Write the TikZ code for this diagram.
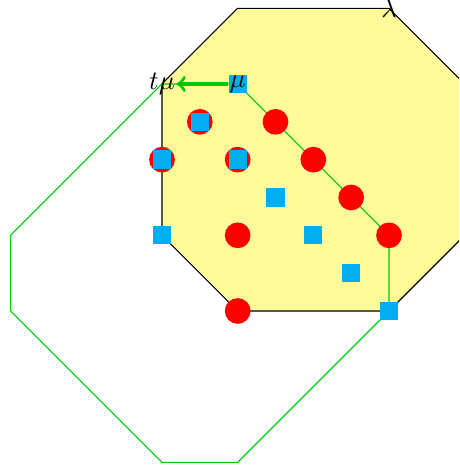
\documentclass[tikz,border=0pt]{standalone}
\begin{document}
\begin{tikzpicture}[x=0.5cm,y=-0.5cm,
  dot/.style={circle,fill=red,draw=none,minimum size=0.34cm,inner sep=0pt},
  sq/.style={rectangle,fill=boxblue,draw=none,minimum width=0.242cm,minimum height=0.242cm,inner sep=0pt},
  lab/.style={inner sep=0.5pt}]
\definecolor{boxblue}{RGB}{0,174,239}
\definecolor{lgreen}{RGB}{0,200,0}
\useasboundingbox (-4.282,-2.220) rectangle (7.851,10.203);
\clip (-4.282,-2.220) rectangle (7.851,10.203);
% yellow octagon
\draw[fill=yellow!40,draw=black] (2,-2) -- (6,-2) -- (8,0) -- (8,4) -- (6,6) -- (2,6) -- (0,4) -- (0,0) -- cycle;
% green octagon
\draw[lgreen] (0,0) -- (2,0) -- (6,4) -- (6,6) -- (2,10) -- (0,10) -- (-4,6) -- (-4,4) -- cycle;
% red dots
\node[dot] (c1) at (1,1) {};
\node[dot] (c2) at (3,1) {};
\node[dot] (c3) at (0,2) {};
\node[dot] (c4) at (2,2) {};
\node[dot] (c5) at (4,2) {};
\node[dot] (c6) at (5,3) {};
\node[dot] (c7) at (6,4) {};
\node[dot] (c8) at (2,4) {};
\node[dot] (c9) at (2,6) {};
% blue squares
\node[sq] (mu) at (2,0) {$\mu$};
\node[sq] (s1) at (1,1) {};
\node[sq] (s2) at (0,2) {};
\node[sq] (s3) at (2,2) {};
\node[sq] (s4) at (3,3) {};
\node[sq] (s5) at (0,4) {};
\node[sq] (s6) at (4,4) {};
\node[sq] (s7) at (5,5) {};
\node[sq] (s8) at (6,6) {};
% labels
\node[lab] (tmu) at (0,0) {$t\mu$};
\node[lab] (lam) at (6,-2) {$\lambda$};
\draw[->,very thick,lgreen] (mu) -- (tmu);
\end{tikzpicture}
\end{document}
